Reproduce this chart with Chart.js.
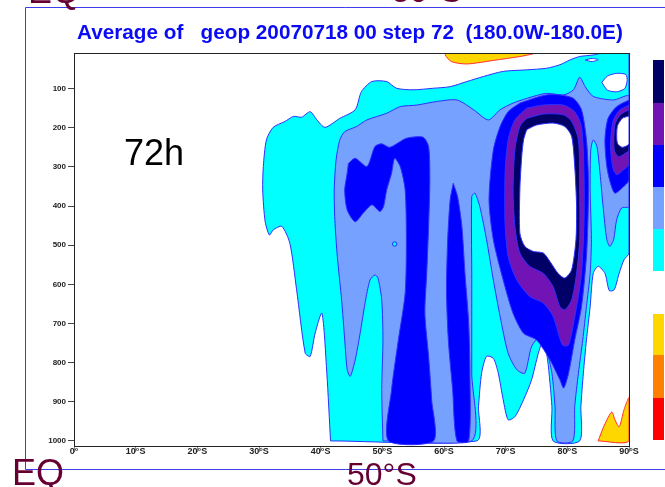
<!DOCTYPE html>
<html>
<head>
<meta charset="utf-8">
<script src="https://cdn.jsdelivr.net/npm/chart.js@4.4.0/dist/chart.umd.min.js"></script>
<style>
html, body { margin: 0; padding: 0; background: #fff; }
</style>
</head>
<body>
<canvas id="chart" width="665" height="487"></canvas>
<script>
// axis ticks
const latTicks = [0, 10, 20, 30, 40, 50, 60, 70, 80, 90];
const pressureTicks = [100, 200, 300, 400, 500, 600, 700, 800, 900, 1000];

// contour regions, [latitude (deg S), pressure (hPa)]
const cyanOuter = [[41.6,1000],[41.0,827],[40.2,674],[39.1,725],[38.3,784],[37.5,776],[36.1,614],[35.0,495],[33.7,452],[32.3,461],[31.7,474],[31.0,440],[30.6,359],[30.7,299],[31.2,231],[32.3,199],[34.2,184],[35.6,171],[36.9,173],[38.3,159],[39.4,180],[40.7,199],[43.1,176],[45.6,154],[46.6,108],[48.3,82],[50.7,82],[52.3,99],[55.0,103],[58.3,99],[61.0,95],[63.7,82],[66.4,69],[69.6,56],[73.4,52],[76.6,48],[78.8,39],[80.4,27],[82.0,18],[84.2,14],[85.8,9],[90,9],[90,520],[89.2,537],[88.4,572],[87.6,614],[86.8,616],[86.1,572],[85.0,554],[84.2,572],[83.7,657],[83.1,742],[82.6,827],[82.2,912],[82.0,1000],[77.7,1000],[77.5,912],[76.8,793],[76.1,742],[75.3,776],[74.2,844],[72.9,895],[71.5,938],[70.4,946],[69.6,895],[68.8,827],[68.0,789],[66.9,784],[66.1,827],[65.6,912],[65.3,1000],[41.6,1000]];
const whiteBlobA = [[85.6,84],[86.5,68],[88.0,61],[89.5,64],[89.7,80],[89.3,100],[88.0,108],[86.5,104],[85.6,84]];
const whiteBlobB = [[82.9,27],[84.0,23],[85.0,26],[84.0,31],[82.9,27]];
const lightBlue = [[50.1,1000],[49.9,869],[50.1,742],[49.9,640],[49.3,584],[48.8,576],[48.0,589],[47.2,648],[46.4,725],[45.6,793],[44.8,835],[44.3,818],[43.9,742],[43.4,640],[42.7,529],[42.3,435],[42.2,359],[42.5,282],[43.1,231],[43.9,210],[45.8,197],[47.5,180],[50.7,163],[52.9,146],[55.6,142],[58.8,133],[62.1,129],[64.8,154],[67.2,180],[69.1,154],[71.2,137],[73.4,125],[76.6,112],[79.4,116],[81.0,103],[82.0,71],[82.9,95],[84.2,120],[87.5,129],[90,120],[90,401],[88.8,405],[88.0,435],[87.5,486],[86.9,503],[86.4,486],[85.8,401],[85.3,316],[84.8,248],[84.2,231],[83.8,257],[83.7,359],[83.9,486],[83.7,572],[83.1,657],[82.5,742],[81.8,827],[81.2,912],[80.9,1000],[78.3,1000],[78.0,912],[77.5,827],[76.6,767],[75.6,733],[74.2,759],[73.1,827],[71.8,818],[70.4,776],[69.1,682],[68.0,589],[66.9,486],[65.8,401],[65.0,367],[64.5,376],[64.5,572],[64.5,827],[64.5,1000],[50.1,1000]];
const blueWest = [[44.5,291],[45.6,278],[47.5,299],[48.8,248],[49.9,241],[51.2,250],[53.9,227],[56.6,224],[57.5,248],[57.7,333],[57.5,452],[57.2,572],[56.9,674],[57.5,784],[58.0,895],[58.3,1000],[51.0,1000],[51.5,869],[52.6,742],[53.7,623],[53.9,486],[53.7,359],[52.9,299],[52.0,278],[51.5,316],[50.7,359],[50.2,401],[49.6,414],[48.3,397],[46.9,418],[45.6,440],[44.3,410],[43.9,359],[44.3,316],[44.5,291]];
const blueColumn = [[61.5,342],[62.2,376],[62.9,452],[63.4,572],[64.0,699],[64.2,827],[64.0,1000],[62.1,1000],[61.4,869],[60.7,742],[60.4,614],[60.6,486],[61.0,384],[61.5,342]];
const blueVortex = [[72.3,137],[74.5,125],[76.6,116],[78.8,116],[81.0,125],[82.3,154],[83.1,231],[83.4,316],[83.4,401],[83.1,529],[82.3,657],[81.2,742],[80.2,827],[79.4,865],[78.8,844],[77.2,793],[75.0,742],[72.9,725],[71.2,674],[69.6,589],[68.0,486],[67.3,384],[68.0,257],[69.1,197],[70.4,159],[72.3,137]];
const purpleVortex = [[73.4,150],[76.1,142],[79.4,142],[81.2,159],[82.3,197],[82.7,316],[82.7,444],[82.3,572],[81.5,657],[80.2,755],[79.2,755],[77.7,682],[76.1,648],[73.9,631],[71.8,589],[70.4,529],[69.9,444],[69.9,316],[70.4,231],[71.5,180],[73.4,150]];
const navyVortex = [[73.4,176],[76.1,165],[79.4,167],[80.7,184],[81.8,231],[82.0,359],[82.0,486],[81.5,572],[80.7,640],[79.6,665],[78.8,657],[77.7,606],[76.1,572],[73.9,554],[72.3,520],[71.5,452],[71.2,359],[71.5,257],[72.3,197],[73.4,176]];
const coreVortex = [[73.4,205],[75.0,193],[77.7,188],[79.6,197],[80.7,222],[81.2,299],[81.5,401],[81.4,486],[80.7,563],[79.6,584],[78.5,572],[77.2,542],[76.1,520],[74.5,516],[73.1,503],[72.3,469],[72.3,359],[72.6,274],[72.9,231],[73.4,205]];
const bluePole = [[90,129],[88.0,146],[86.6,176],[86.1,231],[86.4,299],[87.0,342],[87.7,367],[88.8,355],[90,333],[90,129]];
const purplePole = [[90,142],[88.4,156],[87.4,184],[87.0,248],[87.4,303],[88.0,320],[89.1,308],[90,292],[90,142]];
const navyPole = [[90,154],[88.6,167],[87.7,193],[87.6,257],[88.3,274],[89.4,265],[90,257],[90,154]];
const corePole = [[90,170],[88.9,176],[88.1,197],[88.1,239],[88.9,250],[90,241],[90,170]];
const yellowTop = [[60.4,9],[60.2,14],[61.2,31],[63.7,37],[68.0,28],[72.3,18],[74.5,11],[74.5,9],[60.4,9]];
const yellowBottom = [[85.0,1000],[86.0,960],[87.2,926],[87.7,945],[88.4,964],[89.2,920],[90,890],[90,1000],[85.0,1000]];
const cyanDot = [[52.0,497]];

const CYAN = '#00ffff', LBLUE = '#76a1ff', BLUE = '#0000ff', PURPLE = '#7213b5', NAVY = '#000066';
const YELLOW = '#ffd700', ORANGE = '#ff8000', RED = '#ff0000';
const EDGE = '#2f2fff';

const layers = [
  { pts: cyanOuter, color: CYAN, line: EDGE },
  { pts: whiteBlobA, color: '#ffffff', line: EDGE },
  { pts: whiteBlobB, color: '#ffffff', line: EDGE },
  { pts: lightBlue, color: LBLUE, line: EDGE },
  { pts: blueWest, color: BLUE, line: EDGE },
  { pts: blueColumn, color: BLUE, line: EDGE },
  { pts: blueVortex, color: BLUE, line: EDGE },
  { pts: purpleVortex, color: PURPLE, line: EDGE },
  { pts: navyVortex, color: NAVY, line: EDGE },
  { pts: coreVortex, color: '#ffffff', line: EDGE },
  { pts: bluePole, color: BLUE, line: EDGE },
  { pts: purplePole, color: PURPLE, line: EDGE },
  { pts: navyPole, color: NAVY, line: EDGE },
  { pts: corePole, color: '#ffffff', line: EDGE },
  { pts: yellowTop, color: YELLOW, line: '#ff3030' },
  { pts: yellowBottom, color: YELLOW, line: '#ff3030' }
];

const datasets = layers.map((l, i) => ({
  data: l.pts.map(([x, y]) => ({ x, y })),
  showLine: true,
  fill: 'shape',
  backgroundColor: l.color,
  borderColor: l.line,
  borderWidth: 1,
  pointRadius: 0,
  tension: 0.25,
  order: layers.length + 1 - i
}));
datasets.push({
  data: cyanDot.map(([x, y]) => ({ x, y })),
  showLine: false,
  pointRadius: 2.2,
  pointBackgroundColor: CYAN,
  pointBorderColor: EDGE,
  pointBorderWidth: 1,
  order: 0
});

const titleText = 'Average of   geop 20070718 00 step 72  (180.0W-180.0E)';
const FONT = '"Liberation Sans", Arial, Helvetica, sans-serif';

const decor = {
  id: 'decor',
  beforeDraw(chart) {
    const ctx = chart.ctx;
    ctx.save();
    ctx.fillStyle = '#fff';
    ctx.fillRect(0, 0, chart.width, chart.height);
    ctx.restore();
  },
  afterDraw(chart) {
    const { ctx, chartArea: a } = chart;
    ctx.save();
    // plot frame
    ctx.strokeStyle = '#222';
    ctx.lineWidth = 1;
    ctx.strokeRect(a.left + 0.5, a.top + 0.5, a.right - a.left, a.bottom - a.top);

    // outer page frame
    ctx.strokeStyle = '#3c3ce8';
    ctx.beginPath();
    ctx.moveTo(665, 7.5); ctx.lineTo(25.5, 7.5); ctx.lineTo(25.5, 469.5); ctx.lineTo(665, 469.5);
    ctx.stroke();

    // title
    ctx.font = 'bold 20px ' + FONT;
    const size = 20 * 546 / ctx.measureText(titleText).width;
    ctx.font = 'bold ' + size.toFixed(2) + 'px ' + FONT;
    ctx.fillStyle = '#0a0af5';
    ctx.textBaseline = 'alphabetic';
    ctx.fillText(titleText, 77, 39);

    // forecast step
    ctx.font = '36px ' + FONT;
    ctx.fillStyle = '#000';
    ctx.fillText('72h', 124, 165);

    // panel labels
    ctx.fillStyle = '#660033';
    ctx.font = '36px ' + FONT;
    ctx.fillText('EQ', 12, 485);
    ctx.fillText('EQ', 28, 3);
    ctx.font = '32px ' + FONT;
    ctx.fillText('50°S', 347, 485);
    ctx.fillText('50°S', 392, 2);

    // colour key
    const key = [[60, 103, NAVY], [103, 145, PURPLE], [145, 187, BLUE], [187, 229, LBLUE], [229, 271, CYAN],
                 [314, 355, YELLOW], [355, 398, ORANGE], [398, 440, RED]];
    key.forEach(([y0, y1, c]) => {
      ctx.fillStyle = c;
      ctx.fillRect(653, y0, 11, y1 - y0);
    });
    ctx.restore();
  }
};

new Chart(document.getElementById('chart').getContext('2d'), {
  type: 'scatter',
  data: { datasets: datasets },
  options: {
    responsive: false,
    animation: false,
    layout: { padding: { top: 53, right: 36, left: 0, bottom: 0 } },
    plugins: { legend: { display: false }, tooltip: { enabled: false }, title: { display: false } },
    scales: {
      x: {
        type: 'linear', min: 0, max: 90,
        afterBuildTicks: s => { s.ticks = latTicks.map(v => ({ value: v })); },
        afterFit: s => { s.height = 41; },
        ticks: {
          callback: v => v === 0 ? '0°' : v + '°S',
          font: { family: FONT, size: 9, weight: 'bold' },
          color: '#222', padding: -6, maxRotation: 0, autoSkip: false
        },
        grid: { drawOnChartArea: false, tickLength: 6, color: '#888' },
        border: { color: '#222', width: 1 }
      },
      y: {
        type: 'linear', reverse: true, min: 9, max: 1013,
        afterBuildTicks: s => { s.ticks = pressureTicks.map(v => ({ value: v })); },
        afterFit: s => { s.width = 74; },
        ticks: {
          callback: v => String(v),
          font: { family: FONT, size: 8, weight: 'bold' },
          color: '#222', padding: 2, autoSkip: false
        },
        grid: { drawOnChartArea: false, tickLength: 6, color: '#444' },
        border: { color: '#222', width: 1 }
      }
    }
  },
  plugins: [decor]
});
</script>
</body>
</html>
